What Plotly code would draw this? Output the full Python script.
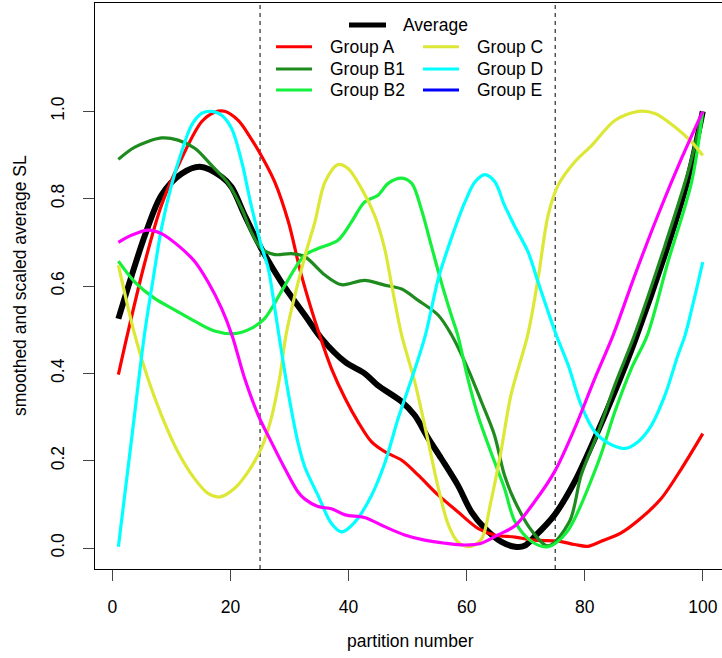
import plotly.graph_objects as go

# ---------------- data ----------------
avg_x = [1, 5.5, 8.3, 11.7, 14.8, 18.5, 20.2, 22.4, 25.2, 28.6, 32.6, 35.4, 39.4, 42.7, 44.9, 49, 51.2, 53.5,
         55.7, 58.5, 60.8, 63.1, 65.9, 68.2, 69.8, 71.5, 74.9, 78.3, 81.7, 85.1, 88.5, 94.1, 97.5, 100]
avg_y = [0.525, 0.716, 0.808, 0.857, 0.873, 0.85, 0.826, 0.762, 0.686, 0.609, 0.533, 0.48, 0.426, 0.40, 0.373,
         0.335, 0.304, 0.251, 0.205, 0.144, 0.083, 0.045, 0.014, 0.003, 0.005, 0.026, 0.076, 0.152, 0.251, 0.358,
         0.475, 0.693, 0.846, 1.0]

a_x = [1, 2.5, 5.5, 8.3, 11.7, 15.1, 17.3, 19.0, 21.3, 23.5, 25.2, 27.5, 29.8, 32.0, 35.1, 37.1, 39.4, 41.6, 43.9,
       46.2, 49.0, 51.8, 55.2, 58.5, 61.9, 64.7, 68.2, 71.5, 75.5, 78.3, 80.5, 82.7, 86.1, 89.5, 93.0, 96.4, 100]
a_y = [0.397, 0.487, 0.655, 0.785, 0.892, 0.976, 0.998, 1.0, 0.979, 0.937, 0.899, 0.838, 0.747, 0.625, 0.487,
       0.411, 0.343, 0.289, 0.243, 0.220, 0.201, 0.167, 0.121, 0.083, 0.045, 0.030, 0.025, 0.018, 0.016, 0.008,
       0.004, 0.015, 0.034, 0.068, 0.114, 0.182, 0.262]

b1_x = [1, 3.8, 8.3, 11.1, 14.0, 16.8, 19.6, 21.9, 23.5, 25.2, 27.5, 30.3, 32.6, 36.0, 38.8, 42.7, 46.1, 49.0,
        51.8, 55.2, 57.4, 60.2, 62.5, 64.7, 66.4, 68.2, 71, 73.8, 77.4, 79.4, 82.3, 85.1, 88.5, 93.6, 97.5, 100]
b1_y = [0.89, 0.918, 0.939, 0.934, 0.915, 0.876, 0.835, 0.777, 0.724, 0.686, 0.672, 0.674, 0.667, 0.625, 0.603,
        0.613, 0.602, 0.593, 0.567, 0.533, 0.489, 0.411, 0.335, 0.259, 0.167, 0.106, 0.04, 0.005, 0.06, 0.167,
        0.266, 0.373, 0.49, 0.693, 0.861, 1.0]

b2_x = [1, 3.8, 7.2, 10.6, 14.0, 17.3, 20.7, 23.5, 25.8, 28.6, 30.9, 32.6, 34.8, 38.2, 40.5, 42.7, 45.0, 46.7,
        49.0, 50.7, 52.3, 54.0, 55.7, 57.4, 58.5, 60.2, 61.9, 64.1, 66.4, 68.2, 71, 73.8, 77.0, 82.3, 85.1, 87.9,
        90.6, 94.1, 98.1, 100]
b2_y = [0.657, 0.609, 0.571, 0.545, 0.519, 0.497, 0.491, 0.503, 0.526, 0.587, 0.640, 0.671, 0.686, 0.705, 0.747,
        0.792, 0.808, 0.835, 0.847, 0.835, 0.777, 0.693, 0.609, 0.533, 0.487, 0.388, 0.304, 0.220, 0.137, 0.06,
        0.015, 0.003, 0.037, 0.197, 0.312, 0.411, 0.487, 0.655, 0.838, 1.0]

c_x = [1, 3.8, 6.0, 8.3, 11.1, 13.9, 16.2, 18.2, 20.7, 23.0, 25.2, 26.9, 28.3, 29.5, 32.6, 34.3, 36.0, 38.2, 39.9,
       42.2, 44.4, 46.1, 47.3, 49.0, 51.2, 53.5, 55.2, 56.9, 58.5, 60.5, 62.5, 64.1, 65.8, 67.5, 70.4, 72.1, 73.8,
       75.5, 78.3, 81.2, 85.1, 89.1, 91.9, 95.3, 98.1, 100]
c_y = [0.648, 0.487, 0.388, 0.304, 0.220, 0.159, 0.125, 0.117, 0.137, 0.175, 0.228, 0.297, 0.388, 0.495, 0.668,
       0.747, 0.838, 0.878, 0.869, 0.823, 0.762, 0.686, 0.602, 0.487, 0.381, 0.243, 0.137, 0.053, 0.014, 0.003,
       0.02, 0.106, 0.22, 0.35, 0.491, 0.617, 0.762, 0.831, 0.884, 0.922, 0.979, 1.0, 0.995, 0.964, 0.93, 0.899]

d_x = [1, 3.2, 5.4, 6.9, 8.3, 10.0, 11.7, 13.4, 15.1, 16.8, 18.5, 20.2, 21.9, 23.5, 25.2, 26.4, 27.5, 28.2, 29.75,
       31.4, 32.6, 34.8, 37.1, 38.8, 41.1, 43.9, 46.2, 48.4, 50.7, 53.0, 55.2, 57.4, 59.7, 61.4, 63.1, 64.8, 66.4,
       68.2, 70.4, 72.1, 73.8, 75.2, 77.2, 79.4, 81.7, 84.0, 86.8, 89.0, 91.3, 93.6, 95.8, 97.0, 98.7, 100]
d_y = [0.003, 0.245, 0.487, 0.617, 0.732, 0.831, 0.907, 0.968, 0.995, 1.0, 0.991, 0.96, 0.884, 0.785, 0.693, 0.64,
       0.548, 0.487, 0.358, 0.243, 0.185, 0.121, 0.056, 0.037, 0.06, 0.121, 0.197, 0.297, 0.388, 0.487, 0.617,
       0.709, 0.792, 0.838, 0.855, 0.838, 0.785, 0.735, 0.678, 0.609, 0.541, 0.487, 0.419, 0.327, 0.266, 0.24,
       0.228, 0.243, 0.281, 0.35, 0.442, 0.487, 0.579, 0.655]

m_x = [1, 3.2, 6.0, 8.3, 11.1, 14.0, 16.2, 18.5, 20.3, 22.4, 24.7, 26.9, 29.2, 31.4, 32.6, 34.8, 37.1, 39.4, 42.7,
       46.1, 49.5, 52.9, 56.3, 59.7, 62.5, 65.3, 68.2, 71.5, 74.9, 78.3, 81.7, 84.8, 88.5, 92.4, 96.4, 100]
m_y = [0.70, 0.716, 0.728, 0.72, 0.693, 0.655, 0.609, 0.548, 0.485, 0.388, 0.304, 0.243, 0.182, 0.129, 0.112,
       0.095, 0.09, 0.076, 0.07, 0.049, 0.03, 0.018, 0.011, 0.007, 0.011, 0.03, 0.051, 0.106, 0.175, 0.274, 0.388,
       0.487, 0.625, 0.762, 0.892, 1.0]

vlines_x = [25, 75]
x_ticks = [0, 20, 40, 60, 80, 100]
y_ticks = [0.0, 0.2, 0.4, 0.6, 0.8, 1.0]
y_ticklabels = ["0.0", "0.2", "0.4", "0.6", "0.8", "1.0"]

legend_names = ["Group A", "Group B1", "Group B2", "Group C", "Group D", "Group E"]
legend_colors = ["#FF0000", "#1E8B1E", "#14F03C", "#DCE835", "#00FFFF", "#0000FF"]

# ---------------- layout geometry ----------------
W, H = 722, 658
ML, MT, MR, MB = 95, 3, 0, 89
PW, PH = W - ML - MR, H - MT - MB
X0, PXU = -2.96, 5.903
FONT = "Liberation Sans, Arial, Helvetica, sans-serif"
FS = 17.5


def fx(px):
    return (px - ML) / PW


def fy(py):
    return (H - MB - py) / PH


fig = go.Figure()

series = [
    (avg_x, avg_y, "#000000", 6.0, "Average"),
    (a_x, a_y, legend_colors[0], 3.2, "Group A"),
    (b1_x, b1_y, legend_colors[1], 3.2, "Group B1"),
    (b2_x, b2_y, legend_colors[2], 3.2, "Group B2"),
    (c_x, c_y, legend_colors[3], 3.2, "Group C"),
    (d_x, d_y, legend_colors[4], 3.2, "Group D"),
    (m_x, m_y, "#FF00FF", 3.2, "other"),
]
for xs, ys, col, lw, nm in series:
    fig.add_trace(go.Scatter(x=xs, y=ys, mode="lines", name=nm, showlegend=False, hoverinfo="skip",
                             line=dict(color=col, width=lw, shape="spline", smoothing=0.9)))

shapes = []
for vx in vlines_x:
    shapes.append(dict(type="line", xref="x", yref="paper", x0=vx, x1=vx, y0=0, y1=1,
                       line=dict(color="black", width=1, dash="4px,4px"), layer="below"))

annotations = []
# manual legend (R style, no box)
shapes.append(dict(type="line", xref="paper", yref="paper", x0=fx(349), x1=fx(386), y0=fy(25), y1=fy(25),
                   line=dict(color="black", width=5)))
annotations.append(dict(text="Average", xref="paper", yref="paper", x=fx(401), y=fy(25), xanchor="left",
                        yanchor="middle", showarrow=False, font=dict(family=FONT, size=FS, color="black")))
rows_y = [46.7, 69, 90]
cols = [(276, 312, 327.5), (423, 459, 475)]
for i, (nm, col) in enumerate(zip(legend_names, legend_colors)):
    c = cols[i // 3]
    ry = rows_y[i % 3]
    shapes.append(dict(type="line", xref="paper", yref="paper", x0=fx(c[0]), x1=fx(c[1]), y0=fy(ry), y1=fy(ry),
                       line=dict(color=col, width=3)))
    annotations.append(dict(text=nm, xref="paper", yref="paper", x=fx(c[2]), y=fy(ry), xanchor="left",
                            yanchor="middle", showarrow=False, font=dict(family=FONT, size=FS, color="black")))

# axis titles
annotations.append(dict(text="partition number", xref="paper", yref="paper", x=fx(410), y=fy(641),
                        xanchor="center", yanchor="middle", showarrow=False,
                        font=dict(family=FONT, size=FS, color="black")))
annotations.append(dict(text="smoothed and scaled average SL", xref="paper", yref="paper", x=fx(20), y=fy(286),
                        xanchor="center", yanchor="middle", textangle=-90, showarrow=False,
                        font=dict(family=FONT, size=FS, color="black")))

fig.update_layout(
    width=W, height=H,
    margin=dict(l=ML, r=MR, t=MT, b=MB, pad=0),
    paper_bgcolor="white", plot_bgcolor="white",
    shapes=shapes, annotations=annotations,
    font=dict(family=FONT, size=FS, color="black"),
    hovermode=False,
    xaxis=dict(range=[X0, X0 + PW / PXU], tickvals=x_ticks, ticktext=[str(t) for t in x_ticks],
               showgrid=False, zeroline=False, showline=True, mirror=True, linecolor="black", linewidth=1,
               ticks="outside", ticklen=11, tickcolor="#444", tickwidth=1, ticklabelstandoff=11,
               tickfont=dict(family=FONT, size=FS, color="black")),
    yaxis=dict(range=[-0.048, 1.248], tickvals=y_ticks, ticktext=y_ticklabels,
               showgrid=False, zeroline=False, showline=True, mirror=False, linecolor="black", linewidth=1,
               ticks="outside", ticklen=11, tickcolor="#444", tickwidth=1, tickangle=-90, ticklabelstandoff=12,
               tickfont=dict(family=FONT, size=FS, color="black")),
)

fig.write_html("out.html",
               config={"displayModeBar": False, "staticPlot": True},
               post_script="document.body.style.margin='0';document.body.style.padding='0';"
                           "document.body.style.overflow='hidden';")
